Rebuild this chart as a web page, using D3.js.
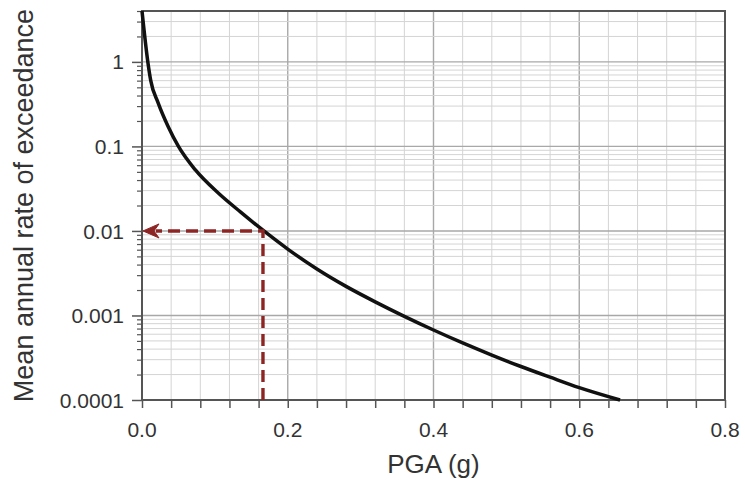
<!DOCTYPE html>
<html lang="en">
<head>
    <meta charset="UTF-8">
    <title>Hazard curve</title>
    <script src="https://d3js.org/d3.v7.min.js"></script>
    <style>
        body {
            margin: 0;
            background: #fff;
            font-family: "Liberation Sans", Arial, sans-serif;
        }
        .grid-minor { stroke: #d4d4d4; stroke-width: 1; }
        .grid-major { stroke: #a8a8a8; stroke-width: 1.4; }
        .tick-label { font-size: 21px; fill: #333; }
        .axis-title { font-size: 26px; fill: #333; }
    </style>
</head>
<body>
<svg id="chart"></svg>
<script>
    // Данные кривой
    const pga = [0.0, 0.008, 0.012, 0.022, 0.036, 0.05, 0.073, 0.105, 0.135, 0.166, 0.2,
        0.24, 0.28, 0.32, 0.36, 0.40, 0.44, 0.48, 0.52, 0.56, 0.60, 0.656];
    const rate = [4, 1.0, 0.6, 0.33, 0.171, 0.10, 0.053, 0.0279, 0.0168, 0.0102, 0.0061,
        0.00355, 0.00221, 0.00145, 0.000977, 0.000673, 0.000473, 0.00034, 0.000249, 0.000186, 0.000140, 0.0001];

    // Отметка для 0.01
    const markPga = 0.166;
    const markRate = 0.01;

    // Подписи осей
    const xTicks = [0, 0.2, 0.4, 0.6, 0.8];
    const xTickLabels = ["0.0", "0.2", "0.4", "0.6", "0.8"];
    const yTicks = [1e-4, 1e-3, 1e-2, 1e-1, 1];
    const yTickLabels = ["0.0001", "0.001", "0.01", "0.1", "1"];

    const width = 745;
    const height = 483;
    const margin = {top: 11, right: 20, bottom: 83, left: 142};

    const svg = d3.select("#chart")
        .attr("width", width)
        .attr("height", height);

    const x = d3.scaleLinear()
        .domain([0, 0.8])
        .range([margin.left, width - margin.right]);

    const y = d3.scaleLog()
        .domain([1e-4, 4])
        .range([height - margin.bottom, margin.top]);

    // Второстепенные деления
    const xMinor = d3.range(0, 0.8001, 0.04);
    const yMinor = [];
    yTicks.forEach(dec => {
        for (let k = 2; k <= 9; k++) {
            const v = dec * k;
            if (v <= 4.0001) yMinor.push(v);
        }
    });

    // Сетка
    const grid = svg.append("g");
    grid.selectAll(".vx")
        .data(xMinor)
        .join("line")
        .attr("class", d => (Math.abs(d / 0.2 - Math.round(d / 0.2)) < 1e-6) ? "grid-major" : "grid-minor")
        .attr("x1", d => x(d)).attr("x2", d => x(d))
        .attr("y1", y.range()[0]).attr("y2", y.range()[1]);

    grid.selectAll(".hy-minor")
        .data(yMinor)
        .join("line")
        .attr("class", "grid-minor")
        .attr("x1", x.range()[0]).attr("x2", x.range()[1])
        .attr("y1", d => y(d)).attr("y2", d => y(d));

    grid.selectAll(".hy-major")
        .data(yTicks)
        .join("line")
        .attr("class", "grid-major")
        .attr("x1", x.range()[0]).attr("x2", x.range()[1])
        .attr("y1", d => y(d)).attr("y2", d => y(d));

    // Рамка
    svg.append("rect")
        .attr("x", x.range()[0])
        .attr("y", y.range()[1])
        .attr("width", x.range()[1] - x.range()[0])
        .attr("height", y.range()[0] - y.range()[1])
        .attr("fill", "none")
        .attr("stroke", "#555")
        .attr("stroke-width", 2);

    // Оси
    const xAxis = svg.append("g")
        .attr("transform", `translate(0,${y.range()[0]})`)
        .call(d3.axisBottom(x).tickValues(xMinor).tickSize(8).tickFormat(""));
    xAxis.select(".domain").remove();
    xAxis.selectAll("line").attr("stroke", "#555").attr("stroke-width", 1.5);

    svg.append("g")
        .selectAll("text")
        .data(xTicks)
        .join("text")
        .attr("class", "tick-label")
        .attr("x", d => x(d))
        .attr("y", y.range()[0] + 37)
        .attr("text-anchor", "middle")
        .text((d, i) => xTickLabels[i]);

    const yAxisMinor = svg.append("g")
        .attr("transform", `translate(${x.range()[0]},0)`)
        .call(d3.axisLeft(y).tickValues(yMinor).tickSize(5).tickFormat(""));
    yAxisMinor.select(".domain").remove();
    yAxisMinor.selectAll("line").attr("stroke", "#555").attr("stroke-width", 1.2);

    const yAxisMajor = svg.append("g")
        .attr("transform", `translate(${x.range()[0]},0)`)
        .call(d3.axisLeft(y).tickValues(yTicks).tickSize(10).tickFormat(""));
    yAxisMajor.select(".domain").remove();
    yAxisMajor.selectAll("line").attr("stroke", "#555").attr("stroke-width", 1.5);

    svg.append("g")
        .selectAll("text")
        .data(yTicks)
        .join("text")
        .attr("class", "tick-label")
        .attr("x", x.range()[0] - 18)
        .attr("y", d => y(d))
        .attr("dy", "0.36em")
        .attr("text-anchor", "end")
        .text((d, i) => yTickLabels[i]);

    // Кривая
    const curveData = pga.map((p, i) => [p, rate[i]]);
    svg.append("path")
        .datum(curveData)
        .attr("fill", "none")
        .attr("stroke", "#111")
        .attr("stroke-width", 3.5)
        .attr("stroke-linejoin", "round")
        .attr("d", d3.line()
            .x(d => x(d[0]))
            .y(d => y(d[1]))
            .curve(d3.curveMonotoneX));

    // Пунктирная стрелка
    const arrowColor = "#8e2525";
    const mx = x(markPga);
    const my = y(markRate);
    const tipX = x(0) + 1;
    const headLen = 16;

    svg.append("path")
        .attr("d", `M${mx},${y.range()[0]}L${mx},${my}L${tipX + headLen - 3},${my}`)
        .attr("fill", "none")
        .attr("stroke", arrowColor)
        .attr("stroke-width", 3.4)
        .attr("stroke-dasharray", "12,6");

    svg.append("path")
        .attr("d", `M${tipX},${my}L${tipX + headLen},${my - 7}L${tipX + headLen - 5},${my}L${tipX + headLen},${my + 7}Z`)
        .attr("fill", arrowColor)
        .attr("stroke", arrowColor)
        .attr("stroke-width", 1)
        .attr("stroke-linejoin", "round");

    // Подписи осей
    svg.append("text")
        .attr("class", "axis-title")
        .attr("x", (x.range()[0] + x.range()[1]) / 2)
        .attr("y", 473)
        .attr("text-anchor", "middle")
        .text("PGA (g)");

    svg.append("text")
        .attr("class", "axis-title")
        .attr("transform", `translate(33,${(y.range()[0] + y.range()[1]) / 2}) rotate(-90)`)
        .attr("text-anchor", "middle")
        .style("font-size", "27px")
        .text("Mean annual rate of exceedance");
</script>
</body>
</html>
